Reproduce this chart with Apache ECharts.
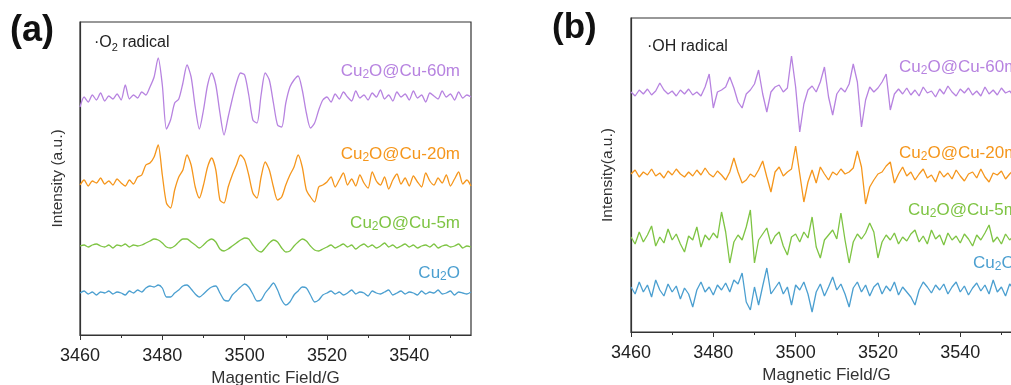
<!DOCTYPE html>
<html>
<head>
<meta charset="utf-8">
<script src="https://cdn.jsdelivr.net/npm/echarts@6/dist/echarts.min.js"></script>
<style>
  html, body { margin: 0; padding: 0; background: #fff; }
  #chart { width: 1011px; height: 385px; }
</style>
</head>
<body>
<div id="chart"></div>
<script>
// magnetic field, 3460..3555 G, 1 G step
var field = [];
for (var g = 3460; g <= 3555; g++) field.push(g);

var majorTicks = [3460, 3480, 3500, 3520, 3540];
var minorTicks = [3470, 3490, 3510, 3530, 3550];

// (a) .O2 radical  -- traces already stacked (a.u.)
var o2Cu60 = [228,238,233,240,235,242,234,239,236,241,235,250,236,240,237,243,
  240,248,258,277,250,206,215,232,236,252,270,258,228,206,225,250,262,250,222,200,
  218,236,252,262,260,240,215,212,240,262,255,232,210,208,232,248,255,259,245,222,
  207,212,225,235,238,
  233,241,236,243,238,234,244,237,240,235,242,238,245,236,240,234,243,238,241,235,
  244,237,240,233,242,239,236,244,238,241,235,243,237,240,238];
var o2Cu20 = [150,155,149,154,152,157,151,154,150,156,152,149,155,151,158,
  160,170,172,178,190,160,132,127,145,158,165,180,170,148,137,150,168,177,165,135,
  132,148,160,170,180,175,160,142,137,158,173,165,148,135,138,150,160,168,180,168,
  145,138,133,148,150,
  153,158,148,155,162,150,156,149,160,152,147,163,154,150,158,146,155,161,151,157,
  149,159,153,148,162,154,150,157,152,160,149,156,163,151,155,149];
var o2Cu5 = [89,90,88,90,91,89,88,90,87,90,89,91,88,90,89,
  90,92,94,96,95,92,88,87,89,93,96,96,93,90,87,90,94,96,93,86,84,86,89,92,95,97,96,
  90,85,83,87,92,95,93,87,83,84,89,93,96,94,89,85,84,86,
  88,90,87,89,91,88,90,86,89,91,88,90,87,89,92,88,90,87,89,91,88,90,87,89,90,88,91,
  87,89,90,88,89,91,87,89,88];
var o2Cu2O = [42,44,41,43,40,43,42,44,41,43,42,40,44,42,45,
  43,47,49,48,50,47,38,38,42,45,49,50,46,41,38,41,45,48,49,42,35,34,40,44,48,51,48,
  41,34,35,42,47,52,45,35,30,33,40,44,48,47,40,33,35,40,
  42,44,41,43,40,42,45,41,43,42,39,44,42,41,43,45,40,42,44,41,43,42,40,44,41,43,42,
  45,41,42,44,40,43,42,41,43];

// (b) .OH radical
var ohCu60 = [240,236,242,238,243,237,241,249,242,238,241,236,242,238,243,237,240,236,245,
  258,224,240,242,245,255,244,230,224,238,242,248,262,238,220,240,245,247,240,244,276,
  245,200,228,242,246,240,250,265,235,217,238,244,240,248,268,250,205,232,245,240,244,
  250,258,222,238,243,
  238,244,237,242,236,245,239,241,235,243,238,246,240,236,243,239,244,237,241,236,
  245,238,242,237,244,239,241,236,243,240];
var ohCu20 = [158,162,155,160,157,163,156,159,154,161,157,163,158,155,160,156,162,157,164,
  158,155,161,157,152,160,
  174,160,149,152,158,155,162,171,155,140,160,165,156,160,163,186,158,130,150,162,149,
  165,158,152,160,157,163,158,160,164,181,165,128,145,152,158,160,166,170,149,158,165,
  156,160,152,158,163,154,157,150,161,155,159,153,162,156,151,158,160,154,163,155,
  150,159,157,161,153,158,162,155,157];
var ohCu5 = [95,88,100,90,97,106,86,95,89,103,
  92,98,88,80,96,92,105,85,97,92,
  99,94,120,100,69,90,97,92,105,122,
  69,92,98,104,88,96,100,86,77,95,
  98,90,100,94,115,85,74,92,97,102,
  93,119,92,69,90,98,93,99,109,100,
  74,90,97,92,99,88,95,91,98,102,
  90,96,88,102,93,97,87,99,92,96,
  89,98,93,86,97,92,99,107,90,95,
  88,98,92,96,90,94];
var ohCu2O = [45,38,50,40,47,35,52,42,36,48,
  40,46,33,44,38,25,42,50,40,45,
  37,47,42,49,40,52,48,59,30,22,
  45,27,46,64,38,44,50,38,45,27,
  47,42,50,38,20,40,48,36,45,55,
  42,48,38,25,44,50,40,47,36,45,
  49,38,46,41,50,37,45,40,35,27,
  42,50,45,39,47,42,48,38,45,50,
  40,46,37,44,49,41,47,38,52,40,
  45,36,48,43,39,46];

var sampleNames = ['Cu2O@Cu-60m', 'Cu2O@Cu-20m', 'Cu2O@Cu-5m', 'Cu2O'];
var colors = ['#b783e0', '#f5961c', '#7ec443', '#4b9fd0'];

var font = 'Arial, "Liberation Sans", sans-serif';

function pairs(arr) {
  return arr.map(function (v, i) { return [field[i], v]; });
}

// Cu2O -> Cu{sub 2}O
function richName(name) {
  return name.replace('Cu2O', '{n|Cu}{s|2}{n|O}').replace(/O\}(.+)$/, 'O}{n|$1}');
}

function xAxes(grid, name) {
  return [{
    gridIndex: grid, type: 'value', min: 3460, max: 3555,
    name: name, nameLocation: 'middle', nameGap: 35,
    nameTextStyle: { fontSize: 17, color: '#333', fontFamily: font },
    axisLine: { lineStyle: { color: '#333', width: 1.2 } },
    axisTick: { customValues: majorTicks, length: 5, lineStyle: { color: '#333' } },
    axisLabel: {
      customValues: majorTicks, fontSize: 18, color: '#222', margin: 12, fontFamily: font,
      formatter: function (v) { return String(v); }
    },
    splitLine: { show: false }
  }, {
    gridIndex: grid, type: 'value', min: 3460, max: 3555, position: 'bottom',
    axisLine: { show: false },
    axisTick: { customValues: minorTicks, length: 3, lineStyle: { color: '#333' } },
    axisLabel: { show: false },
    splitLine: { show: false }
  }];
}

function yAxis(grid, name, max, gap) {
  return {
    gridIndex: grid, type: 'value', min: 0, max: max,
    name: name, nameLocation: 'middle', nameGap: gap,
    nameTextStyle: { fontSize: 15.5, color: '#333', fontFamily: font },
    axisLine: { show: true, lineStyle: { color: '#333', width: 1.2 } },
    axisTick: { show: false }, axisLabel: { show: false }, splitLine: { show: false }
  };
}

function lineSeries(xi, yi, data, color, smooth) {
  return {
    type: 'line', xAxisIndex: xi, yAxisIndex: yi, data: pairs(data),
    showSymbol: false, symbol: 'none', smooth: smooth,
    lineStyle: { color: color, width: 1.3 },
    animation: false
  };
}

function label(text, x, y, color, align) {
  return {
    type: 'text', x: x, y: y,
    style: {
      text: richName(text), fill: color, align: align, verticalAlign: 'middle',
      rich: {
        n: { fontSize: 17, lineHeight: 20, fontFamily: font, fill: color },
        s: { fontSize: 12, lineHeight: 12, verticalAlign: 'bottom', fontFamily: font, fill: color }
      }
    }
  };
}

var chart = echarts.init(document.getElementById('chart'));
var option = {
  backgroundColor: '#fff',
  animation: false,
  grid: [
    { left: 80, top: 22, width: 391, height: 313, show: true, borderColor: '#333', borderWidth: 1.2,
      outerBoundsMode: 'none', containLabel: false },
    { left: 631, top: 18, width: 391, height: 314, show: true, borderColor: '#333', borderWidth: 1.2,
      outerBoundsMode: 'none', containLabel: false }
  ],
  xAxis: xAxes(0, 'Magentic Field/G').concat(xAxes(1, 'Magnetic Field/G')),
  yAxis: [yAxis(0, 'Intensity (a.u.)', 313, 14), yAxis(1, 'Intensity(a.u.)', 314, 15)],
  series: [
    lineSeries(0, 0, o2Cu60, colors[0], 0.25),
    lineSeries(0, 0, o2Cu20, colors[1], 0.25),
    lineSeries(0, 0, o2Cu5, colors[2], 0.25),
    lineSeries(0, 0, o2Cu2O, colors[3], 0.25),
    lineSeries(2, 1, ohCu60, colors[0], false),
    lineSeries(2, 1, ohCu20, colors[1], false),
    lineSeries(2, 1, ohCu5, colors[2], false),
    lineSeries(2, 1, ohCu2O, colors[3], false)
  ],
  graphic: [
    { type: 'text', x: 10, y: 13, style: { text: '(a)', font: 'bold 36px ' + font, fill: '#111' } },
    { type: 'text', x: 552, y: 11, style: { text: '(b)', font: 'bold 35px ' + font, fill: '#111' } },
    { type: 'text', x: 94, y: 43, style: {
        text: '{n|·O}{s|2}{n| radical}', fill: '#222', verticalAlign: 'middle',
        rich: { n: { fontSize: 16, lineHeight: 20, fontFamily: font, fill: '#222' },
                s: { fontSize: 11, lineHeight: 11, verticalAlign: 'bottom', fontFamily: font, fill: '#222' } } } },
    { type: 'text', x: 647, y: 47, style: {
        text: '·OH radical', fill: '#222', verticalAlign: 'middle', font: '16px ' + font } },
    label(sampleNames[0], 460, 71, colors[0], 'right'),
    label(sampleNames[1], 460, 154, colors[1], 'right'),
    label(sampleNames[2], 460, 223, colors[2], 'right'),
    label(sampleNames[3], 460, 273, colors[3], 'right'),
    label(sampleNames[0], 899, 67, colors[0], 'left'),
    label(sampleNames[1], 899, 153, colors[1], 'left'),
    label(sampleNames[2], 908, 210, colors[2], 'left'),
    label(sampleNames[3], 973, 263, colors[3], 'left')
  ]
};
chart.setOption(option);
</script>
</body>
</html>
